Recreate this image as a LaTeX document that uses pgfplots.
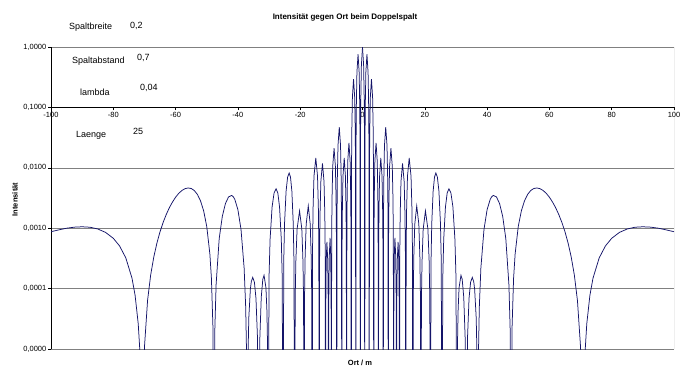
\documentclass[border=0pt]{standalone}
\usepackage{fontspec}
\setmainfont{Liberation Sans}
\usepackage{pgfplots}
\usepackage{pgfplotstable}
\pgfplotsset{compat=1.18}
\definecolor{curve}{RGB}{20,20,105}
\definecolor{gridc}{RGB}{128,128,128}

\pgfplotstableread{
x y
0 1
0.357 0.5
0.536 0.146
0.625 0.0381
0.7146 1e-7
0.804 0.0289
0.894 0.111
1.073 0.379
1.431 0.7587
1.791 0.379
1.971 0.111
2.061 0.0289
2.151 1e-7
2.242 0.01124
2.332 0.0432
2.514 0.1475
2.876 0.2949
3.243 0.1475
3.426 0.0432
3.517 0.01124
3.609 1e-7
3.702 0.00099
3.794 0.0038
3.980 0.01298
4.350 0.02596
4.727 0.01298
4.915 0.0038
5.009 0.00099
5.103 1e-7
5.199 0.000556
5.295 0.00214
5.487 0.0073
5.870 0.014605
6.261 0.0073
6.457 0.00214
6.554 0.000556
6.652 1e-7
6.752 0.0018
6.852 0.00691
7.053 0.0236
7.453 0.04719
7.865 0.0236
8.071 0.00691
8.174 0.0018
8.277 1e-7
8.383 0.000803
8.489 0.00308
8.701 0.01054
9.124 0.02107
9.563 0.01054
9.782 0.00308
9.891 0.000803
10.001 1e-7
10.052 0.0000263
10.103 0.000101
10.205 0.000346
10.408 0.000691
10.660 0.000346
10.785 0.000101
10.848 0.0000263
10.911 1e-7
10.975 0.0000225
11.040 0.0000865
11.168 0.000296
11.425 0.000591
11.642 0.000296
11.750 0.0000865
11.804 0.0000225
11.858 1e-7
11.982 0.000452
12.106 0.001735
12.354 0.00593
12.850 0.011853
13.371 0.00593
13.631 0.001735
13.761 0.000452
13.891 1e-7
14.029 0.000555
14.166 0.00213
14.442 0.00728
14.992 0.014564
15.576 0.00728
15.868 0.00213
16.014 0.000555
16.160 1e-7
16.316 0.000089
16.472 0.000342
16.784 0.001169
17.408 0.002337
18.079 0.001169
18.415 0.000342
18.582 0.000089
18.750 1e-7
18.932 0.0000736
19.114 0.000283
19.478 0.000966
20.205 0.001931
21.000 0.000966
21.398 0.000283
21.596 0.0000736
21.795 1e-7
22.015 0.000312
22.234 0.0012
22.674 0.004096
23.113 0.0070
23.552 0.008192
24.043 0.0070
24.534 0.004096
25.024 0.0012
25.270 0.000312
25.515 1e-7
25.793 0.000171
26.072 0.000657
26.629 0.002245
27.185 0.003834
27.742 0.004489
28.384 0.003834
29.025 0.002245
29.667 0.000657
29.987 0.000171
30.308 1e-7
30.4 0.0000033
30.5 0.0000129
30.7 0.0000452
31.0 0.0001037
31.61 0.000166
32.0 0.000143
32.5 0.0000725
33.0 0.0000131
33.333 1e-7
33.7 0.0000148
34.2 0.000069
34.7 0.0001277
35.245 0.0001533
35.7 0.0001305
36.0 0.0000975
36.5 0.0000329
36.8 0.000006
36.997 1e-7
37.2 0.00000735
37.5 0.0000493
38 0.000219
39 0.000955
40 0.002028
41 0.003007
41.5 0.00333
42 0.003485
43 0.0033
44 0.002562
45 0.001574
46 0.000676
47 0.0001163
47.4 0.0000215
47.698 1e-7
48 0.0000217
48.5 0.000148
49 0.000375
50 0.001069
51 0.001942
52 0.002833
53 0.003622
54 0.004203
55 0.004546
56 0.004637
57 0.004508
58 0.004203
59 0.003771
60 0.003259
61 0.002715
62 0.002187
63 0.001688
64 0.001248
65 0.000874
66 0.000567
67 0.000334
68 0.0001685
69 0.0000637
70 0.0000107
70.4 0.0000022
70.74 1e-7
71 0.00000115
71.5 0.0000099
72 0.0000262
73 0.0000774
74 0.0001492
76 0.000324
78 0.000510
80 0.000681
82.5 0.000853
85 0.000972
87.5 0.001038
90 0.001056
92.5 0.001041
95 0.0009996
97.5 0.000938
100 0.000875
}\rightside

\pgfplotstableread{
x y
0 1
-0.357 0.5
-0.536 0.146
-0.625 0.0381
-0.7146 1e-7
-0.804 0.0289
-0.894 0.111
-1.073 0.379
-1.431 0.7587
-1.791 0.379
-1.971 0.111
-2.061 0.0289
-2.151 1e-7
-2.242 0.01124
-2.332 0.0432
-2.514 0.1475
-2.876 0.2949
-3.243 0.1475
-3.426 0.0432
-3.517 0.01124
-3.609 1e-7
-3.702 0.00099
-3.794 0.0038
-3.980 0.01298
-4.350 0.02596
-4.727 0.01298
-4.915 0.0038
-5.009 0.00099
-5.103 1e-7
-5.199 0.000556
-5.295 0.00214
-5.487 0.0073
-5.870 0.014605
-6.261 0.0073
-6.457 0.00214
-6.554 0.000556
-6.652 1e-7
-6.752 0.0018
-6.852 0.00691
-7.053 0.0236
-7.453 0.04719
-7.865 0.0236
-8.071 0.00691
-8.174 0.0018
-8.277 1e-7
-8.383 0.000803
-8.489 0.00308
-8.701 0.01054
-9.124 0.02107
-9.563 0.01054
-9.782 0.00308
-9.891 0.000803
-10.001 1e-7
-10.052 0.0000263
-10.103 0.000101
-10.205 0.000346
-10.408 0.000691
-10.660 0.000346
-10.785 0.000101
-10.848 0.0000263
-10.911 1e-7
-10.975 0.0000225
-11.040 0.0000865
-11.168 0.000296
-11.425 0.000591
-11.642 0.000296
-11.750 0.0000865
-11.804 0.0000225
-11.858 1e-7
-11.982 0.000452
-12.106 0.001735
-12.354 0.00593
-12.850 0.011853
-13.371 0.00593
-13.631 0.001735
-13.761 0.000452
-13.891 1e-7
-14.029 0.000555
-14.166 0.00213
-14.442 0.00728
-14.992 0.014564
-15.576 0.00728
-15.868 0.00213
-16.014 0.000555
-16.160 1e-7
-16.316 0.000089
-16.472 0.000342
-16.784 0.001169
-17.408 0.002337
-18.079 0.001169
-18.415 0.000342
-18.582 0.000089
-18.750 1e-7
-18.932 0.0000736
-19.114 0.000283
-19.478 0.000966
-20.205 0.001931
-21.000 0.000966
-21.398 0.000283
-21.596 0.0000736
-21.795 1e-7
-22.015 0.000312
-22.234 0.0012
-22.674 0.004096
-23.113 0.0070
-23.552 0.008192
-24.043 0.0070
-24.534 0.004096
-25.024 0.0012
-25.270 0.000312
-25.515 1e-7
-25.793 0.000171
-26.072 0.000657
-26.629 0.002245
-27.185 0.003834
-27.742 0.004489
-28.384 0.003834
-29.025 0.002245
-29.667 0.000657
-29.987 0.000171
-30.308 1e-7
-30.4 0.0000033
-30.5 0.0000129
-30.7 0.0000452
-31.0 0.0001037
-31.61 0.000166
-32.0 0.000143
-32.5 0.0000725
-33.0 0.0000131
-33.333 1e-7
-33.7 0.0000148
-34.2 0.000069
-34.7 0.0001277
-35.245 0.0001533
-35.7 0.0001305
-36.0 0.0000975
-36.5 0.0000329
-36.8 0.000006
-36.997 1e-7
-37.2 0.00000735
-37.5 0.0000493
-38 0.000219
-39 0.000955
-40 0.002028
-41 0.003007
-41.5 0.00333
-42 0.003485
-43 0.0033
-44 0.002562
-45 0.001574
-46 0.000676
-47 0.0001163
-47.4 0.0000215
-47.698 1e-7
-48 0.0000217
-48.5 0.000148
-49 0.000375
-50 0.001069
-51 0.001942
-52 0.002833
-53 0.003622
-54 0.004203
-55 0.004546
-56 0.004637
-57 0.004508
-58 0.004203
-59 0.003771
-60 0.003259
-61 0.002715
-62 0.002187
-63 0.001688
-64 0.001248
-65 0.000874
-66 0.000567
-67 0.000334
-68 0.0001685
-69 0.0000637
-70 0.0000107
-70.4 0.0000022
-70.74 1e-7
-71 0.00000115
-71.5 0.0000099
-72 0.0000262
-73 0.0000774
-74 0.0001492
-76 0.000324
-78 0.000510
-80 0.000681
-82.5 0.000853
-85 0.000972
-87.5 0.001038
-90 0.001056
-92.5 0.001041
-95 0.0009996
-97.5 0.000938
-100 0.000875
}\leftside

\begin{document}
\begin{tikzpicture}[x=1pt,y=1pt]
\useasboundingbox (0,0) rectangle (690,375);

% horizontal axis crossing at 0,1
\begin{axis}[
  at={(51pt,267.6pt)}, anchor=south west,
  scale only axis, width=623pt, height=60.4pt,
  xmin=-100, xmax=100, ymin=0, ymax=1,
  axis x line*=bottom, axis y line=none,
  x axis line style={black, line width=0.6pt, -},
  xtick={-100,-80,-60,-40,-20,0,20,40,60,80,100},
  xticklabels={-100,-80,-60,-40,-20,0,20,40,60,80,100},
  ytick=\empty,
  tick align=outside, major tick length=3pt,
  tick style={black, line width=0.5pt},
  x tick label style={font=\fontsize{7.5}{9}\selectfont, inner sep=1.5pt},
]
\end{axis}

% main axis with data
\begin{axis}[
  at={(51pt,26pt)}, anchor=south west,
  scale only axis, width=623pt, height=302pt,
  xmin=-100, xmax=100,
  ymode=log, ymin=1e-5, ymax=1,
  axis line style={draw=none},
  xtick=\empty,
  ytick={1e-5,1e-4,1e-3,1e-2,1},
  yticklabels={0{,}0000,0{,}0001,0{,}0010,0{,}0100,1{,}0000},
  extra y ticks={0.1},
  extra y tick labels={0{,}1000},
  extra y tick style={grid=none},
  yminorticks=false,
  ytick pos=left,
  tick align=outside, major tick length=3pt,
  tick style={black, line width=0.5pt},
  ymajorgrids,
  grid style={gridc, line width=0.5pt},
  y tick label style={font=\fontsize{7.5}{9}\selectfont, inner sep=1.5pt},
]
\draw[black, line width=0.6pt] (rel axis cs:0,0) -- (rel axis cs:0,1);
\draw[gridc, line width=0.5pt] (rel axis cs:1,0) -- (rel axis cs:1,1);
\addplot[curve, line width=0.75pt, mark=none] table[x=x, y=y] {\rightside};
\addplot[curve, line width=0.75pt, mark=none] table[x=x, y=y] {\leftside};
\end{axis}

\node[font=\bfseries\fontsize{8}{9.6}\selectfont] at (345,358) {Intensität gegen Ort beim Doppelspalt};
\node[font=\fontsize{9}{11}\selectfont, anchor=west, inner sep=0pt] at (69,348) {Spaltbreite};
\node[font=\fontsize{9}{11}\selectfont, anchor=west, inner sep=0pt] at (130,349) {0,2};
\node[font=\fontsize{9}{11}\selectfont, anchor=west, inner sep=0pt] at (72,314) {Spaltabstand};
\node[font=\fontsize{9}{11}\selectfont, anchor=west, inner sep=0pt] at (137,317) {0,7};
\node[font=\fontsize{9}{11}\selectfont, anchor=west, inner sep=0pt] at (80,283) {lambda};
\node[font=\fontsize{9}{11}\selectfont, anchor=west, inner sep=0pt] at (140,287) {0,04};
\node[font=\fontsize{9}{11}\selectfont, anchor=west, inner sep=0pt] at (76,240) {Laenge};
\node[font=\fontsize{9}{11}\selectfont, anchor=west, inner sep=0pt] at (133,244) {25};
\node[font=\bfseries\fontsize{7.5}{9}\selectfont] at (360,12) {Ort / m};
\node[font=\bfseries\fontsize{7.5}{9}\selectfont, rotate=90] at (15,175.5) {Intensität};
\end{tikzpicture}
\end{document}
